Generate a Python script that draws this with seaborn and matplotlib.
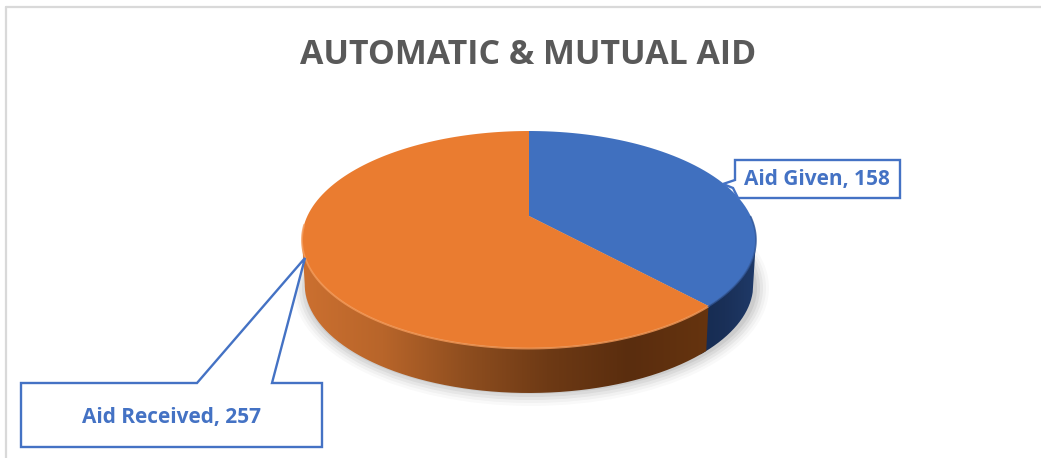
import numpy as np
import matplotlib
matplotlib.use("Agg")
import matplotlib.pyplot as plt
import seaborn as sns
from matplotlib.colors import LinearSegmentedColormap
from matplotlib.path import Path
from matplotlib.patches import PathPatch, Ellipse
from matplotlib.transforms import Affine2D, Transform

categories = ["Aid Given", "Aid Received"]
values = [158, 257]
title = "AUTOMATIC & MUTUAL AID"

sns.set_theme(style="white")
plt.rcParams["font.family"] = ["Open Sans", "DejaVu Sans"]
colors = ["#4070BF", "#EA7C30"]
box_blue = "#4472C4"

# pixel geometry of the tilted disc
cx, cy = 529, 216
A, B, k = 221.6, 103.4, 0.2166
depth = 45


def tilt(uv):
    uv = np.asarray(uv, dtype=float)
    w = 1 + k * uv[:, 1]
    return np.column_stack([cx + A * uv[:, 0] / w, cy - B * uv[:, 1] / w])


class Tilt(Transform):
    input_dims = output_dims = 2

    def transform_non_affine(self, values):
        return tilt(values)

    def transform_path_non_affine(self, path):
        big = path.transformed(Affine2D().scale(1000))
        return Path(tilt(big.to_polygons()[0] / 1000))


def rim(a1, a2):
    t = np.radians(np.linspace(a1, a2, 120))
    return tilt(np.column_stack([np.cos(t), np.sin(t)]))


fig = plt.figure(figsize=(10.41, 4.58), dpi=100)
ax = fig.add_axes([0, 0, 1, 1])

wedges, _ = ax.pie(values, colors=colors, startangle=90, counterclock=False)
ax.set_aspect("auto")

# soft shadow under the disc
for grow, alpha in zip([13, 10, 7, 4, 1], [0.025, 0.035, 0.05, 0.06, 0.07]):
    ax.add_patch(Ellipse((531, 288), 2 * 225 + grow * 2, 2 * 105 + grow * 2, color="k",
                         alpha=alpha, lw=0, zorder=1))

# side wall, one gradient per slice
split = wedges[0].theta1 + 360
side = np.degrees(np.arcsin(k))


def wall(a1, a2, stops, x1, x2, z):
    top = rim(a1, a2)
    low = top.copy()
    low[:, 0] = cx + (low[:, 0] - cx) * 0.988
    low[:, 1] += depth
    patch = PathPatch(Path(np.vstack([top, low[::-1], top[:1]])), fc="none", lw=0, zorder=z)
    ax.add_patch(patch)
    cmap = LinearSegmentedColormap.from_list("w", stops)
    im = ax.imshow(np.linspace(0, 1, 256)[None, :], cmap=cmap, extent=[x1, x2, 400, 200],
                   aspect="auto", zorder=z)
    im.set_clip_path(patch)


wall(split - 2, 360 - side, ["#152A50", "#1A3058", "#1F3A68"], 695, 756, 2)
wall(180 + side, split, ["#CC7030", "#B8652A", "#8F4E1F", "#6E3A15", "#5A2D0E", "#66340F"], 300, 712, 2.5)

for w in wedges:
    w.set_transform(Tilt() + ax.transData)
    w.set_linewidth(0)
    w.set_zorder(3)

# light bevel on the front edge
edge = rim(180 + side - 8, split)
ax.plot(edge[:, 0], edge[:, 1] + 0.5, color="#F59A58", lw=1.4, alpha=0.8, zorder=4)
edge = rim(split, 360)
ax.plot(edge[:, 0], edge[:, 1] + 0.5, color="#2F5597", lw=1.2, alpha=0.8, zorder=4)

ax.set_xlim(0, 1041)
ax.set_ylim(458, 0)
ax.axis("off")

# chart frame
ax.plot([6, 6], [458, 6.5], color="#D9D9D9", lw=1.6, zorder=1)
ax.plot([6, 1041], [6.5, 6.5], color="#D9D9D9", lw=1.6, zorder=1)

ax.text(528, 55, title, ha="center", va="center", fontsize=24.4, fontweight="bold", color="#595959")

# data callouts
given_box = [(723, 184), (735, 180), (735, 160), (900, 160), (900, 198), (738, 198), (733, 188)]
received_box = [(305, 258), (272, 383), (322, 383), (322, 447), (21, 447), (21, 383), (197, 383)]
for pts in [given_box, received_box]:
    xs, ys = zip(*pts)
    ax.fill(xs, ys, fc="white", ec=box_blue, lw=1.7, zorder=5, joinstyle="miter")

ax.text(817, 179, f"{categories[0]}, {values[0]}", ha="center", va="center", fontsize=15,
        fontweight="bold", color=box_blue, zorder=6)
ax.text(172, 417, f"{categories[1]}, {values[1]}", ha="center", va="center", fontsize=15,
        fontweight="bold", color=box_blue, zorder=6)

fig.savefig("out.png", dpi=100)
